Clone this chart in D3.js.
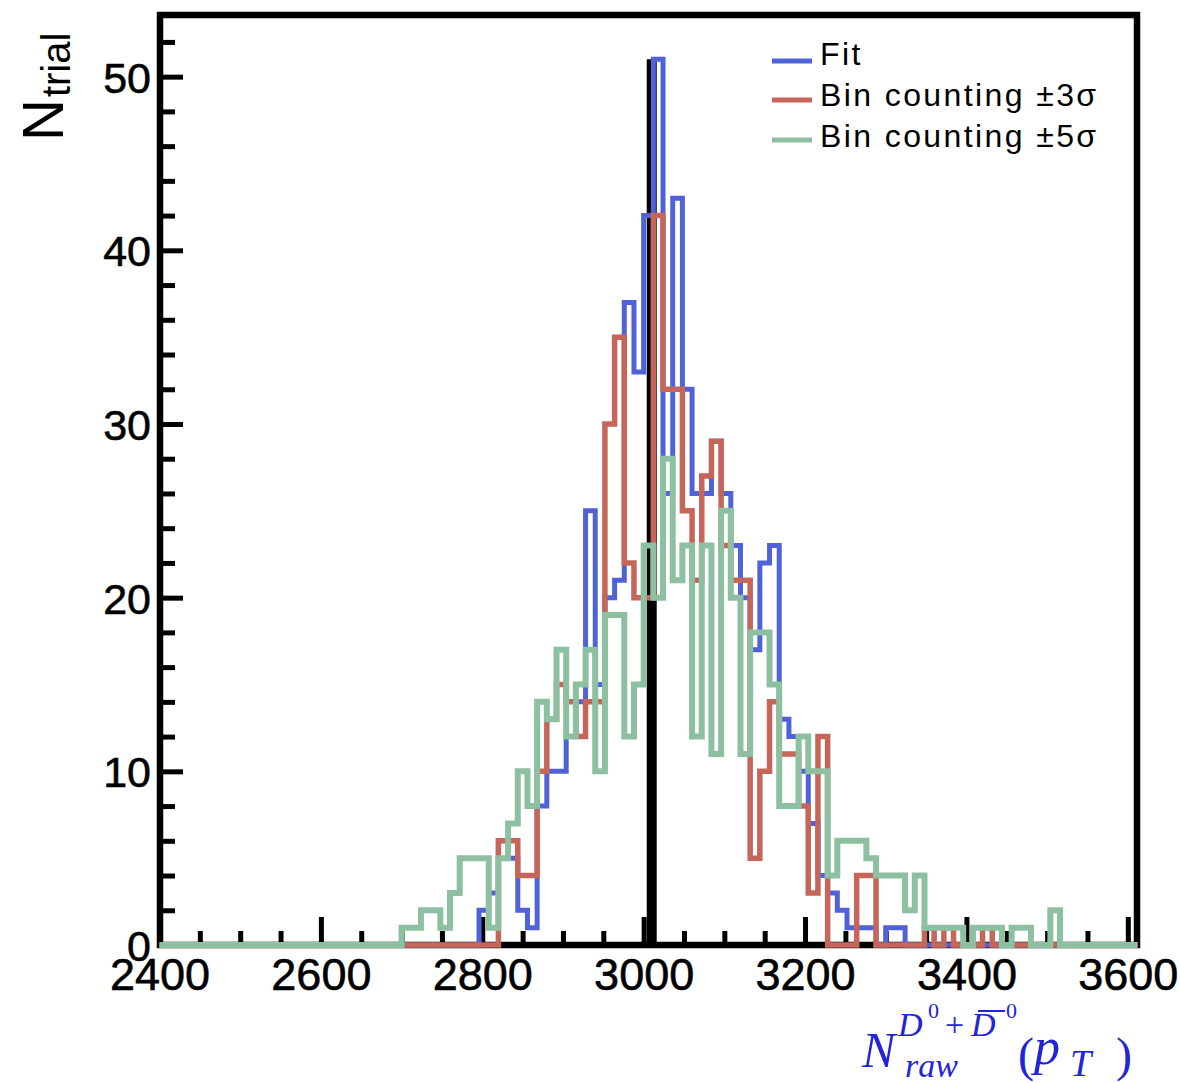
<!DOCTYPE html>
<html><head><meta charset="utf-8">
<script src="https://cdn.jsdelivr.net/npm/d3@7"></script>
<style>body{margin:0;background:#fff;} svg{display:block;}</style>
</head><body>
<svg id="chart" width="1180" height="1083"></svg>
<script>
// ---------------- data ----------------
const axisMin = 2400, axisMax = 3612;
const binStart = 2700;          // first listed bin (lower edge)
const binWidth = 12;
// counts per 12-unit bin starting at 2700
const fitCounts = [0,0,0,0,0,0,0,0,
  2,3,6,5,2,1,8,10,10,12,
  14,25,15,20,21,37,33,42,51,26,
  43,32,26,26,29,26,23,20,17,22,
  23,13,12,10,7,4,3,2,1,1,
  1,0,1,1,
  0,0,0,0,0,0,0,0,0,0,0,0,0,0,0,0,0,0,0];
const bc3Counts = [0,0,0,0,0,0,0,0,0,0,
  6,6,4,4,10,13,15,14,12,14,
  14,30,35,22,20,20,42,32,32,25,
  21,27,29,23,21,21,5,10,14,11,
  11,8,3,12,0,0,0,4,4,0,
  0,0,0,0,1,0,1,0,0,0,
  1,0,0,0,0,0,0,0,0,0,0];
const bc5Counts = [1,1,2,2,1,3,5,5,5,1,
  5,7,10,8,14,13,17,12,15,17,
  10,19,19,12,15,23,20,28,21,23,
  12,23,11,25,20,11,18,18,15,8,
  8,12,10,10,4,6,6,6,5,4,
  4,4,2,4,1,1,1,1,0,1,
  1,1,0,1,1,0,0,2,0,0,0];
const trueValue = 3010, trueCount = 51;
const xTicks = [2400,2600,2800,3000,3200,3400,3600];
const yTicks = [0,10,20,30,40,50];
const legendLabels = ["Fit","Bin counting \u00B13\u03C3","Bin counting \u00B15\u03C3"];
const seriesColors = ["#4f62d8","#c6665a","#8dc0a0"];

// ---------------- layout ----------------
const svg = d3.select("#chart");
const x = d3.scaleLinear().domain([axisMin, axisMax]).range([159.5, 1137.5]);
const y = d3.scaleLinear().domain([0, 53.55]).range([945, 15]);
const FONT = "Liberation Sans, Arial, Helvetica, sans-serif";

// frame
svg.append("rect").attr("x", 160).attr("y", 15).attr("width", 977).attr("height", 930)
  .attr("fill", "none").attr("stroke", "#000").attr("stroke-width", 6.5);

// minor ticks
const xMinor = d3.range(axisMin, 3601, 50).filter(v => v % 200 !== 0);
const yMinor = d3.range(0, 53, 2).filter(v => v % 10 !== 0);
svg.append("g").attr("transform", "translate(0,945)")
  .call(d3.axisBottom(x).tickValues(xMinor).tickSize(-14).tickFormat(""))
  .call(g => g.select(".domain").remove())
  .call(g => g.selectAll("line").attr("stroke", "#000").attr("stroke-width", 5));
svg.append("g").attr("transform", "translate(160,0)")
  .call(d3.axisLeft(y).tickValues(yMinor).tickSize(-15).tickFormat(""))
  .call(g => g.select(".domain").remove())
  .call(g => g.selectAll("line").attr("stroke", "#000").attr("stroke-width", 5));

// major ticks + labels
svg.append("g").attr("transform", "translate(0,945)")
  .call(d3.axisBottom(x).tickValues(xTicks).tickSize(-28).tickFormat(d3.format("d")))
  .call(g => g.select(".domain").remove())
  .call(g => g.selectAll("line").attr("stroke", "#000").attr("stroke-width", 5))
  .call(g => g.selectAll("text").attr("y", 45).attr("dy", 0)
    .attr("font-family", FONT).attr("font-size", 45).attr("fill", "#000")
    .attr("stroke", "#000").attr("stroke-width", 0.6));
svg.append("g").attr("transform", "translate(160,0)")
  .call(d3.axisLeft(y).tickValues(yTicks).tickSize(-23).tickFormat(d3.format("d")))
  .call(g => g.select(".domain").remove())
  .call(g => g.selectAll("line").attr("stroke", "#000").attr("stroke-width", 5))
  .call(g => g.selectAll("text").attr("x", -9).attr("dy", "0.36em")
    .attr("font-family", FONT).attr("font-size", 43).attr("fill", "#000")
    .attr("stroke", "#000").attr("stroke-width", 0.6));

// true-value spike
svg.append("line")
  .attr("x1", x(trueValue)).attr("x2", x(trueValue))
  .attr("y1", y(0)).attr("y2", y(trueCount))
  .attr("stroke", "#000").attr("stroke-width", 10);

// histograms
function histPoints(counts) {
  const pts = [[axisMin, 0], [binStart, 0]];
  counts.forEach((c, i) => {
    const lo = binStart + i * binWidth, hi = lo + binWidth;
    pts.push([lo, c], [hi, c]);
  });
  const end = binStart + counts.length * binWidth;
  pts.push([end, 0], [axisMax, 0]);
  return pts;
}
const line = d3.line().x(d => x(d[0])).y(d => y(d[1]));
const allSeries = [fitCounts, bc3Counts, bc5Counts];
const widths = [5, 5.5, 6];
allSeries.forEach((s, i) => {
  svg.append("path").attr("d", line(histPoints(s)))
    .attr("fill", "none").attr("stroke", seriesColors[i])
    .attr("stroke-width", widths[i]).attr("stroke-linejoin", "miter");
});

// legend
const legY = [61, 100, 140];
const legBase = [65, 106, 147];
legendLabels.forEach((t, i) => {
  svg.append("line").attr("x1", 772).attr("x2", 812).attr("y1", legY[i]).attr("y2", legY[i])
    .attr("stroke", seriesColors[i]).attr("stroke-width", 5);
  svg.append("text").attr("x", 820).attr("y", legBase[i]).text(t)
    .attr("font-family", FONT).attr("font-size", 32).attr("letter-spacing", 2.4)
    .attr("fill", "#000");
});

// y title N_trial
const yt = svg.append("text").attr("transform", "translate(63,141) rotate(-90)")
  .attr("font-family", FONT).attr("fill", "#000");
yt.append("tspan").attr("font-size", 58).text("N");
yt.append("tspan").attr("font-size", 40).attr("dy", 7).attr("dx", 2).text("trial");

// x title
const SERIF = "Liberation Serif, Times New Roman, serif";
const blue = "#2323d9";
const xt = svg.append("g").attr("fill", blue).attr("font-family", SERIF);
xt.append("text").attr("x", 862).attr("y", 1067).attr("font-size", 50).attr("font-style", "italic").text("N");
xt.append("text").attr("x", 898).attr("y", 1036).attr("font-size", 34).attr("font-style", "italic").text("D");
xt.append("text").attr("x", 928).attr("y", 1018).attr("font-size", 22).text("0");
xt.append("text").attr("x", 945).attr("y", 1036).attr("font-size", 34).text("+");
xt.append("text").attr("x", 971).attr("y", 1036).attr("font-size", 34).attr("font-style", "italic").text("D");
xt.append("line").attr("x1", 978).attr("x2", 1005).attr("y1", 1011).attr("y2", 1011)
  .attr("stroke", blue).attr("stroke-width", 2);
xt.append("text").attr("x", 1006).attr("y", 1018).attr("font-size", 22).text("0");
xt.append("text").attr("x", 905).attr("y", 1077).attr("font-size", 34).attr("font-style", "italic").text("raw");
xt.append("text").attr("x", 1018).attr("y", 1071).attr("font-size", 48).text("(");
xt.append("text").attr("x", 1034).attr("y", 1064).attr("font-size", 52).attr("font-style", "italic").text("p");
xt.append("text").attr("x", 1070).attr("y", 1076).attr("font-size", 38).attr("font-style", "italic").text("T");
xt.append("text").attr("x", 1116).attr("y", 1071).attr("font-size", 48).text(")");
</script>
</body></html>
